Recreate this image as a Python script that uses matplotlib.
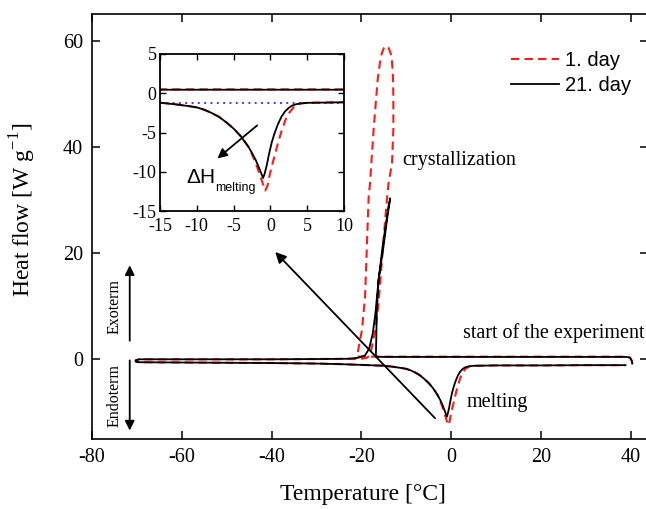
import matplotlib
matplotlib.use('Agg')
import matplotlib.pyplot as plt

plt.rcParams['font.family'] = ['Liberation Serif', 'DejaVu Serif']
plt.rcParams['axes.unicode_minus'] = False

# ---- 21. day (black) ----
cool1_T_21 = [40.3, 40.2, 39.8, 39.0, 30, 20, 10, 0, -10, -15, -16.8]
cool1_H_21 = [-0.8, -0.3, 0.3, 0.45, 0.45, 0.45, 0.45, 0.45, 0.45, 0.45, 0.5]
cryst_T_21 = [-16.8, -16.7, -16.6, -16.2, -15.1, -14.2, -13.6, -14.0, -15.3, -16.2,
              -16.9, -17.5, -18.3, -19.2, -20.7, -23.0]
cryst_H_21 = [0.5, 4.0, 8.6, 14.9, 21.2, 27.0, 30.3, 28.7, 21.2, 14.9,
              8.6, 4.8, 2.0, 0.75, 0.3, 0.1]
heat_T_21 = [-60, -50, -40, -30, -25, -20, -17, -15, -13, -11, -10, -9, -8, -7,
             -6, -5, -4, -3, -2.5, -2, -1.5, -1.2, -1.0, -0.8, -0.5, -0.2, 0.2,
             0.6, 1.0, 1.5, 2.0, 2.5, 3.0, 3.5, 4.1, 5, 10, 20, 30, 38.8]
heat_H_21 = [-0.6, -0.65, -0.7, -0.8, -0.9, -1.05, -1.15, -1.2, -1.4, -1.65,
             -1.8, -2.1, -2.5, -3.0, -3.7, -4.5, -5.5, -6.8, -7.6, -8.5, -9.6,
             -10.3, -10.8, -10.3, -9.2, -7.8, -6.2, -5.0, -4.0, -3.0, -2.3,
             -1.85, -1.55, -1.4, -1.3, -1.22, -1.15, -1.15, -1.1, -1.1]

# ---- 1. day (red dashed) ----
cool1_T_1 = [40.3, 40.2, 39.8, 39.0, 30, 20, 10, 0, -10, -15, -20, -21.0]
cool1_H_1 = [-0.8, -0.3, 0.35, 0.5, 0.5, 0.5, 0.5, 0.5, 0.5, 0.5, 0.5, 0.5]
cryst_T_1 = [-21.0, -19.9, -19.2, -18.8, -18.4, -18.1, -17.3, -16.4, -15.9, -15.5,
             -15.0, -14.5, -14.0, -13.5, -13.2, -13.0, -12.9, -12.9, -13.2, -14.0,
             -14.6, -15.5, -16.2, -16.9, -17.7, -18.1, -18.8, -20.0, -22.0]
cryst_H_1 = [0.5, 5.5, 11.8, 21.2, 30.6, 33.1, 43.2, 52.6, 55.8, 57.5,
             58.6, 59.0, 58.7, 57.6, 56.0, 53.5, 49.5, 43.2, 36.9, 33.0,
             27.5, 18.1, 10.5, 5.5, 2.3, 0.75, 0.3, 0.1, 0.05]
heat_T_1 = [-60, -50, -40, -30, -25, -20, -17, -15, -13, -11, -10, -9, -8, -7,
            -6, -5, -4, -3, -2.5, -2.0, -1.5, -1.0, -0.7, -0.4, -0.05, 0.3, 0.65,
            1.1, 1.56, 2.0, 2.47, 3.15, 4.1, 5, 10, 20, 30, 38.8]
heat_H_1 = [-0.6, -0.65, -0.7, -0.8, -0.9, -1.05, -1.15, -1.2, -1.4, -1.65,
            -1.8, -2.1, -2.5, -3.0, -3.7, -4.5, -5.5, -6.8, -7.8, -8.9, -10.2,
            -11.6, -12.4, -11.8, -10.2, -8.9, -7.7, -6.1, -4.7, -3.5, -2.6, -1.8,
            -1.3, -1.22, -1.15, -1.15, -1.1, -1.1]

# shared cooling tail down to -70 and return hook
cool2_T = [-23.0, -30, -40, -50, -60, -69.5, -70.3, -70.2, -69.5, -60]
cool2_H = [0.1, 0.05, 0.0, 0.0, 0.0, 0.0, -0.2, -0.45, -0.55, -0.6]

baseline_T = [-15, 10]
baseline_H = [-1.23, -1.23]


def join(*parts):
    out = []
    for p in parts:
        out.extend(p)
    return out


T21 = join(cool1_T_21, cryst_T_21, cool2_T, heat_T_21)
H21 = join(cool1_H_21, cryst_H_21, cool2_H, heat_H_21)
T1 = join(cool1_T_1, cryst_T_1, cool2_T, heat_T_1)
H1 = join(cool1_H_1, cryst_H_1, cool2_H, heat_H_1)

fig = plt.figure(figsize=(6.46, 5.09), dpi=100)
ax = fig.add_axes([92 / 646, 70 / 509, 556 / 646, 425 / 509])

red_kw = dict(color='#ff1a1a', lw=1.5, dashes=(4, 2.5))
blk_kw = dict(color='black', lw=1.3)

ax.plot(T1, H1, label='1. day', **red_kw)
ax.plot(T21, H21, label='21. day', **blk_kw)

ax.set_xlim(-80, 43.8)
ax.set_ylim(-15, 65)
ax.set_xticks([-80, -60, -40, -20, 0, 20, 40])
ax.set_yticks([0, 20, 40, 60])
ax.tick_params(direction='in', length=6, width=1.1, top=True, right=True,
               labelsize=14.5, pad=6.5)
for s in ax.spines.values():
    s.set_linewidth(1.2)

ax.set_xlabel('Temperature [°C]', fontsize=17)
ax.xaxis.set_label_coords(0.487, -0.106)
ax.set_ylabel(r'Heat flow [W g$^{\mathregular{-1}}$]', fontsize=17)
ax.yaxis.set_label_coords(-0.097, 0.539)

ax.legend(loc='upper left', bbox_to_anchor=(0.754, 0.912), frameon=False,
          borderaxespad=0, borderpad=0, handlelength=2.35,
          handletextpad=0.3, labelspacing=0.3,
          prop={'family': 'Liberation Sans', 'size': 14.5})

# annotations
ax.text(-10.9, 37.5, 'crystallization', fontsize=14.5, va='center')
ax.text(2.5, 4.9, 'start of the experiment', fontsize=14.5, va='center')
ax.text(3.3, -8.1, 'melting', fontsize=14.5, va='center')

ax.annotate('', xy=(-39.2, 20.2), xytext=(-3.6, -11.1),
            arrowprops=dict(arrowstyle='-|>', color='black', lw=1.3,
                            mutation_scale=16, shrinkA=0, shrinkB=0))
ax.annotate('', xy=(-71.6, 17.7), xytext=(-71.6, 3.5),
            arrowprops=dict(arrowstyle='-|>', color='black', lw=1.3,
                            mutation_scale=14, shrinkA=0, shrinkB=0))
ax.annotate('', xy=(-71.6, -13.4), xytext=(-71.6, -0.2),
            arrowprops=dict(arrowstyle='-|>', color='black', lw=1.3,
                            mutation_scale=14, shrinkA=0, shrinkB=0))
ax.text(-75.0, 10, 'Exoterm', rotation=90, fontsize=11.5, ha='center', va='center')
ax.text(-75.0, -6.8, 'Endoterm', rotation=90, fontsize=11.5, ha='center', va='center')

# inset
ins = fig.add_axes([160 / 646, 298 / 509, 184 / 646, 157 / 509])
ins.plot(baseline_T, baseline_H, color='#2222ff', lw=1.3, ls=(0, (1, 2.5)))
ins.plot(T1, H1, **red_kw)
ins.plot(T21, H21, **blk_kw)
ins.set_xlim(-15, 10)
ins.set_ylim(-15, 5)
ins.set_xticks([-15, -10, -5, 0, 5, 10])
ins.set_yticks([-15, -10, -5, 0, 5])
ins.tick_params(direction='in', length=4, width=1.0, top=True, right=True,
                labelsize=13)
ins.tick_params(axis='x', pad=5)
ins.tick_params(axis='y', pad=2.5)
for s in ins.spines.values():
    s.set_linewidth(1.3)

ins.annotate('', xy=(-7.2, -8.3), xytext=(-1.8, -4.1),
             arrowprops=dict(arrowstyle='-|>', color='black', lw=1.3,
                             mutation_scale=14, shrinkA=0, shrinkB=0))
ins.text(-11.35, -11.4, 'ΔH', fontsize=15, family='Liberation Sans')
ins.text(-7.5, -12.45, 'melting', fontsize=9, family='Liberation Sans')

fig.savefig('out.png', dpi=100)
